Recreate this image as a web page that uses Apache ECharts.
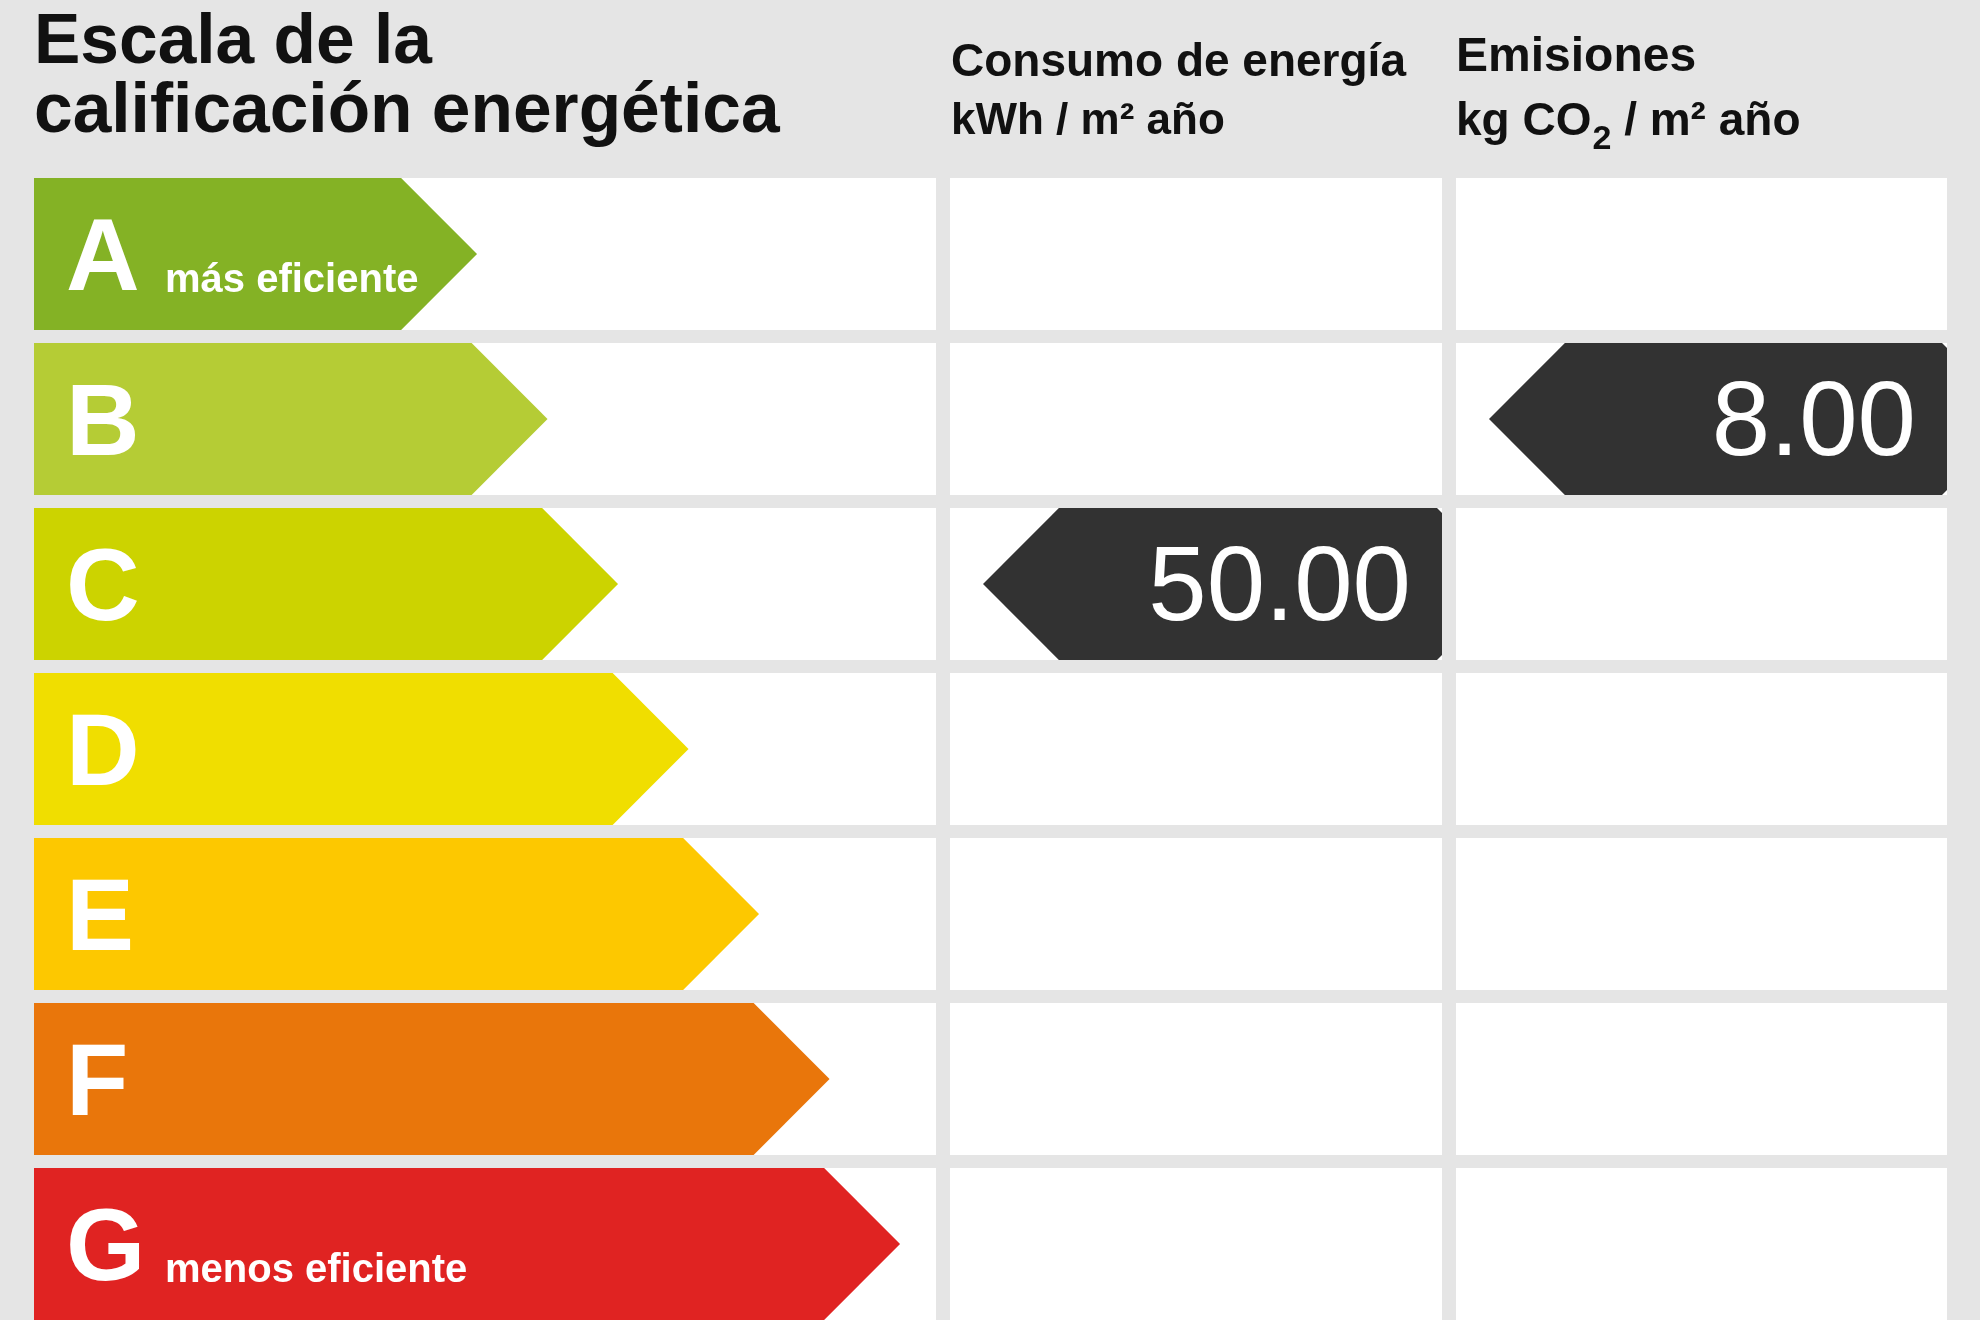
<!DOCTYPE html>
<html><head><meta charset="utf-8">
<script src="https://cdn.jsdelivr.net/npm/echarts@6/dist/echarts.min.js"></script>
<style>html,body{margin:0;padding:0;background:#e5e5e5}#c{width:1980px;height:1320px}</style>
</head><body><div id="c"></div>
<script>
// ---- data ----
const classes = ['A', 'B', 'C', 'D', 'E', 'F', 'G'];
const classColors = ['#84b225', '#b5cc35', '#ccd300', '#f0de00', '#fdc800', '#e9760b', '#e02322'];
const classNotes = ['más eficiente', '', '', '', '', '', 'menos eficiente'];
const consumoClass = ['C'];
const consumoValue = [50.00];
const emisionesClass = ['B'];
const emisionesValue = [8.00];
const titleLines = ['Escala de la', 'calificación energética'];
const consumoHeader = ['Consumo de energía', 'kWh / m² año'];
const emisionesHeader = ['Emisiones', 'kg CO', '2', ' / m² año'];

// ---- helpers ----
const FF = '"Liberation Sans", Arial, Helvetica, sans-serif';
const ctx = document.createElement('canvas').getContext('2d');
function tw(t, font) { ctx.font = font; return ctx.measureText(t).width; }

function cellGeom(params, api) {
  const idx = api.value(1);
  const c = api.coord([api.value(0), idx]);
  const h = api.size([0, 1])[1] * 0.92;
  const cs = params.coordSys;
  return { idx, cy: c[1], top: c[1] - h / 2, bot: c[1] + h / 2, h, cs };
}

function renderScale(params, api) {
  const g = cellGeom(params, api);
  const i = g.idx;
  const tipX = api.coord([i + 1, i])[0];
  const half = g.h / 2;
  const x0 = g.cs.x;
  const children = [
    { type: 'rect', shape: { x: x0, y: g.top, width: g.cs.width, height: g.h }, style: { fill: '#ffffff' } },
    { type: 'polygon', shape: { points: [[x0, g.top], [tipX - half, g.top], [tipX, g.cy], [tipX - half, g.bot], [x0, g.bot]] },
      style: { fill: classColors[i] } },
    { type: 'text', style: { text: classes[i], x: x0 + 32, y: g.cy + 7.5, fill: '#ffffff', font: 'bold 102px ' + FF,
      textAlign: 'left', textVerticalAlign: 'middle', align: 'left', verticalAlign: 'middle' } }
  ];
  if (classNotes[i]) {
    children.push({ type: 'text', style: { text: classNotes[i], x: x0 + 131, y: g.cy + 27, fill: '#ffffff', font: 'bold 40px ' + FF,
      textAlign: 'left', textVerticalAlign: 'middle', align: 'left', verticalAlign: 'middle' } });
  }
  return { type: 'group', children };
}

function renderCell(params, api) {
  const g = cellGeom(params, api);
  return { type: 'rect', shape: { x: g.cs.x, y: g.top, width: g.cs.width, height: g.h }, style: { fill: '#ffffff' } };
}

function renderPointer(params, api) {
  const g = cellGeom(params, api);
  const val = api.value(2);
  const half = g.h / 2;
  const tipX = g.cs.x + 33;
  const right = g.cs.x + g.cs.width;
  const r = 5;
  return { type: 'group', children: [
    { type: 'polygon', shape: { points: [[tipX, g.cy], [tipX + half, g.top], [right - r, g.top], [right, g.top + r], [right, g.bot - r], [right - r, g.bot], [tipX + half, g.bot]] },
      style: { fill: '#323232' } },
    { type: 'text', style: { text: val.toFixed(2), x: right - 31, y: g.cy + 7.5, fill: '#ffffff', font: 'normal 105px ' + FF,
      textAlign: 'right', textVerticalAlign: 'middle', align: 'right', verticalAlign: 'middle' } }
  ] };
}

// ---- chart ----
const chart = echarts.init(document.getElementById('c'), null, { renderer: 'canvas' });
const gridTop = 171.5, gridH = 1155;
const grids = [
  { left: 34, top: gridTop, width: 902, height: gridH, outerBoundsMode: 'none', containLabel: false },
  { left: 950, top: gridTop, width: 492, height: gridH, outerBoundsMode: 'none', containLabel: false },
  { left: 1456, top: gridTop, width: 491, height: gridH, outerBoundsMode: 'none', containLabel: false }
];
const yAxes = grids.map((g, k) => ({ type: 'category', gridIndex: k, data: classes, inverse: true, show: false }));
const xAxes = [
  { type: 'value', gridIndex: 0, min: -5.284, max: 7.51, show: false },
  { type: 'value', gridIndex: 1, min: 0, max: 1, show: false },
  { type: 'value', gridIndex: 2, min: 0, max: 1, show: false }
];

const emFont = 'bold 46px ' + FF;
const coW = tw(emisionesHeader[1], emFont);
const twoFont = 'bold 34px ' + FF;
const twoW = tw(emisionesHeader[2], twoFont);

function txt(text, x, y, font) {
  return { type: 'text', x: 0, y: 0, style: { text, x, y, font, fill: '#111111',
    textAlign: 'left', textVerticalAlign: 'middle', align: 'left', verticalAlign: 'middle' } };
}

chart.setOption({
  animation: false,
  backgroundColor: '#e5e5e5',
  grid: grids,
  xAxis: xAxes,
  yAxis: yAxes,
  graphic: [
    txt(titleLines[0], 34, 43.5, 'bold 69.5px ' + FF),
    txt(titleLines[1], 34, 113, 'bold 69.5px ' + FF),
    txt(consumoHeader[0], 951, 63, 'bold 46px ' + FF),
    txt(consumoHeader[1], 951, 122, 'bold 44px ' + FF),
    txt(emisionesHeader[0], 1456, 57.5, 'bold 48px ' + FF),
    txt(emisionesHeader[1], 1456, 122, emFont),
    txt(emisionesHeader[2], 1456 + coW + 1, 140, twoFont),
    txt(emisionesHeader[3], 1456 + coW + twoW + 1, 122, emFont)
  ],
  series: [
    { type: 'custom', xAxisIndex: 0, yAxisIndex: 0, renderItem: renderScale,
      data: classes.map((c, i) => [i, c]), encode: { x: 0, y: 1 }, silent: true },
    { type: 'custom', xAxisIndex: 1, yAxisIndex: 1, renderItem: renderCell,
      data: classes.map(c => [0, c]), encode: { x: 0, y: 1 }, silent: true },
    { type: 'custom', xAxisIndex: 2, yAxisIndex: 2, renderItem: renderCell,
      data: classes.map(c => [0, c]), encode: { x: 0, y: 1 }, silent: true },
    { type: 'custom', xAxisIndex: 1, yAxisIndex: 1, renderItem: renderPointer, z: 5,
      data: consumoClass.map((c, k) => [0, c, consumoValue[k]]), encode: { x: 0, y: 1 }, silent: true },
    { type: 'custom', xAxisIndex: 2, yAxisIndex: 2, renderItem: renderPointer, z: 5,
      data: emisionesClass.map((c, k) => [0, c, emisionesValue[k]]), encode: { x: 0, y: 1 }, silent: true }
  ]
});
</script></body></html>
